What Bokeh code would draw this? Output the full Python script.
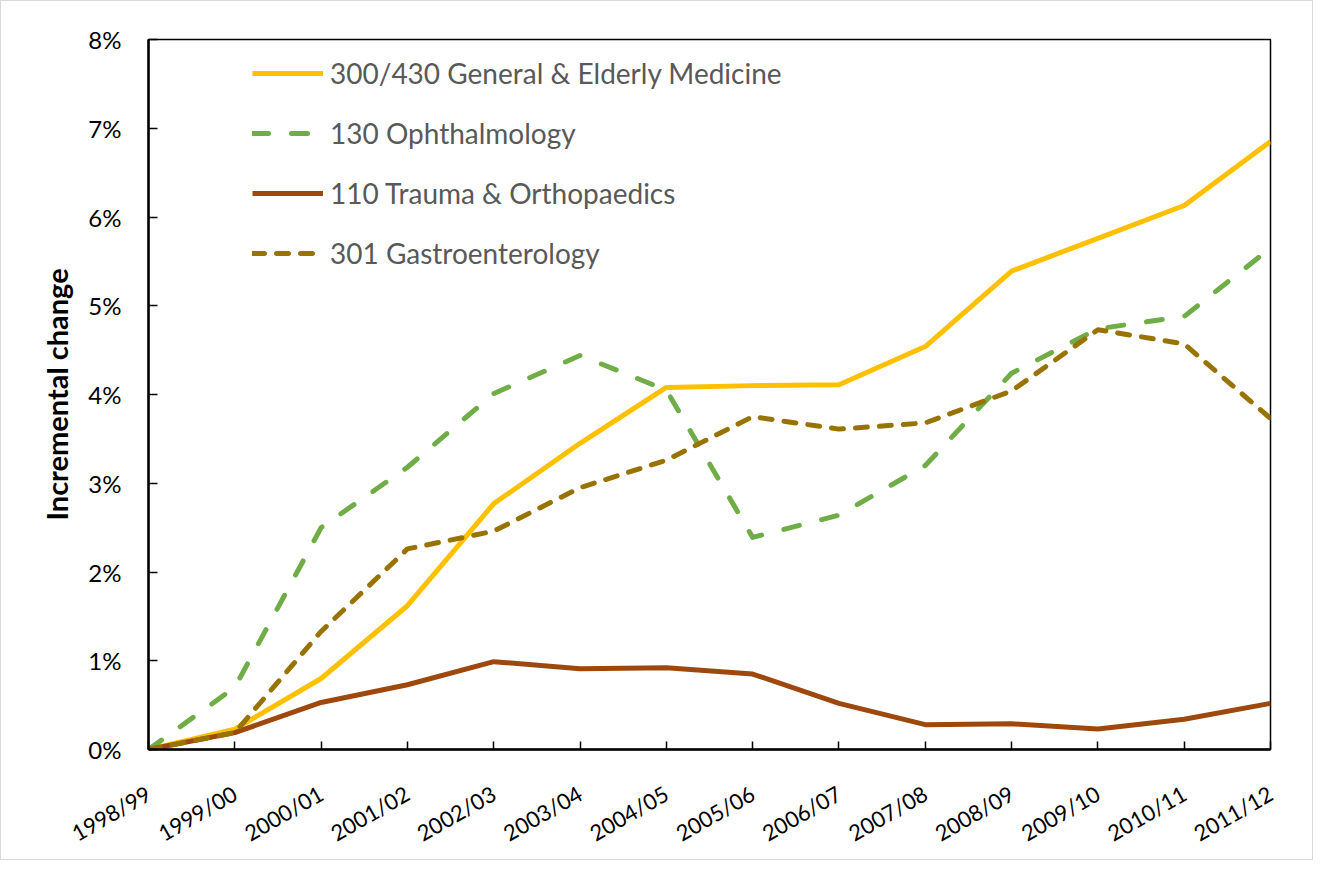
import math
from bokeh.plotting import figure
from bokeh.models import Legend, LegendItem, FixedTicker, Range1d
from bokeh.embed import file_html
from bokeh.resources import INLINE

years = ["1998/99", "1999/00", "2000/01", "2001/02", "2002/03", "2003/04", "2004/05",
         "2005/06", "2006/07", "2007/08", "2008/09", "2009/10", "2010/11", "2011/12"]
general_elderly = [0.0, 0.23, 0.80, 1.62, 2.77, 3.45, 4.08, 4.10, 4.11, 4.54, 5.39, 5.76, 6.13, 6.85]
ophthalmology = [0.0, 0.70, 2.50, 3.18, 4.01, 4.44, 4.05, 2.39, 2.64, 3.20, 4.24, 4.74, 4.88, 5.65]
trauma_ortho = [0.0, 0.19, 0.53, 0.73, 0.99, 0.91, 0.92, 0.85, 0.52, 0.28, 0.29, 0.23, 0.34, 0.52]
gastro = [0.0, 0.19, 1.33, 2.26, 2.46, 2.95, 3.26, 3.75, 3.61, 3.68, 4.04, 4.73, 4.57, 3.73]
y_ticks = [0, 1, 2, 3, 4, 5, 6, 7, 8]

xs = list(range(len(years)))
FONT = "Lato"

p = figure(width=1313, height=860, output_backend="svg", toolbar_location=None,
           x_range=Range1d(0, len(years) - 1), y_range=Range1d(0, 8),
           min_border_left=147, min_border_right=44, min_border_top=38, min_border_bottom=112)
p.styles = {"border": "1px solid #d9d9d9"}
p.grid.visible = False
p.outline_line_color = "black"
p.outline_line_width = 1.5

LW = 5
r1 = p.line(xs, general_elderly, line_color="#FFC000", line_width=LW, line_join="round")
r2 = p.line(xs, ophthalmology, line_color="#70AD47", line_width=LW, line_dash="16 23", line_cap="round", line_join="round")
r3 = p.line(xs, trauma_ortho, line_color="#9E480E", line_width=LW, line_join="round")
r4 = p.line(xs, gastro, line_color="#997300", line_width=LW, line_dash="12 12", line_cap="round", line_join="round")

xa = p.xaxis[0]
xa.ticker = FixedTicker(ticks=xs)
xa.major_label_overrides = {i: y for i, y in enumerate(years)}
xa.major_label_orientation = math.radians(30)
xa.major_label_text_font = FONT
xa.major_label_text_font_size = "22px"
xa.major_label_text_color = "black"
xa.axis_line_color = "black"
xa.axis_line_width = 2.5
xa.major_tick_in = 8
xa.major_tick_out = 0
xa.major_tick_line_color = "black"
xa.major_tick_line_width = 1.5
xa.minor_tick_line_color = None
xa.major_label_standoff = 42

ya = p.yaxis[0]
ya.ticker = FixedTicker(ticks=y_ticks)
ya.major_label_overrides = {t: f"{t}%" for t in y_ticks}
ya.major_label_text_font = FONT
ya.major_label_text_font_size = "24px"
ya.major_label_text_color = "black"
ya.axis_line_color = "black"
ya.axis_line_width = 2.5
ya.major_tick_in = 9
ya.major_tick_out = 0
ya.major_tick_line_color = "black"
ya.major_tick_line_width = 1.5
ya.minor_tick_line_color = None
ya.major_label_standoff = 27
ya.axis_label = "Incremental change"
ya.axis_label_text_font = FONT
ya.axis_label_text_font_style = "bold"
ya.axis_label_text_font_size = "29px"
ya.axis_label_text_color = "black"
ya.axis_label_standoff = 11

legend = Legend(items=[
    LegendItem(label="300/430 General & Elderly Medicine", renderers=[r1]),
    LegendItem(label="130 Ophthalmology", renderers=[r2]),
    LegendItem(label="110 Trauma & Orthopaedics", renderers=[r3]),
    LegendItem(label="301 Gastroenterology", renderers=[r4]),
], location=(104, 479))
legend.border_line_alpha = 0
legend.background_fill_alpha = 0
legend.label_text_font = FONT
legend.label_text_font_size = "28px"
legend.label_text_color = "#595959"
legend.glyph_width = 71
legend.glyph_height = 30
legend.label_height = 30
legend.spacing = 26
legend.padding = 0
legend.margin = 0
legend.label_standoff = 7
p.add_layout(legend)

open("out.html", "w").write(file_html(p, INLINE))
